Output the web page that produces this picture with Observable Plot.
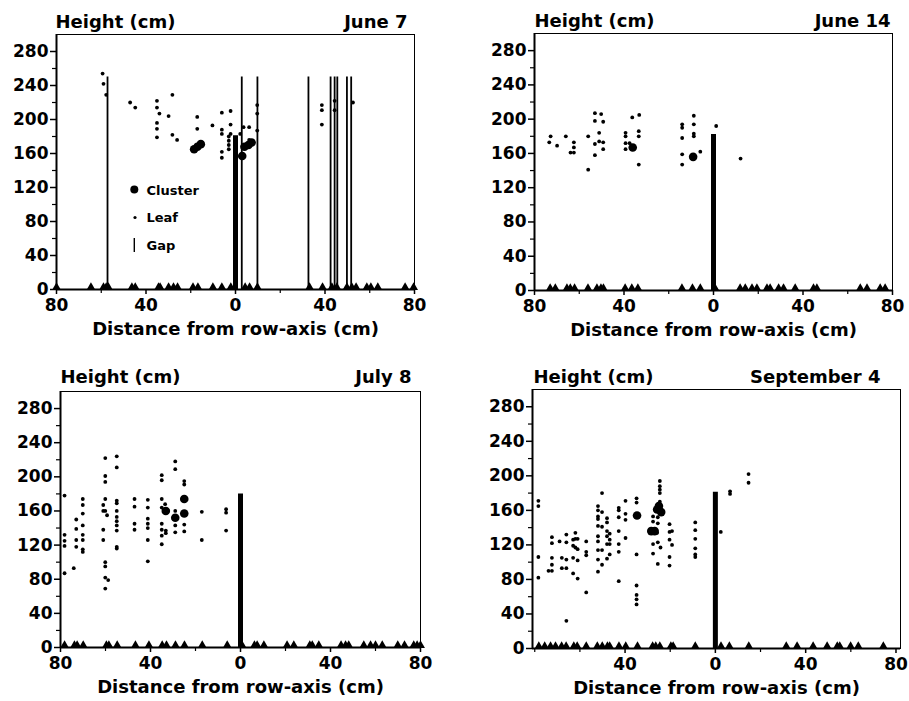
<!DOCTYPE html>
<html><head><meta charset="utf-8">
<script src="https://cdn.jsdelivr.net/npm/d3@7"></script>
<script src="https://cdn.jsdelivr.net/npm/@observablehq/plot@0.6"></script>
<style>
body{margin:0;background:#fff;}
#wrap{position:relative;width:909px;height:701px;overflow:hidden;background:#fff;}
#wrap .panel{position:absolute;}
#legend{position:absolute;left:0;top:0;pointer-events:none;}
</style></head><body><div id="wrap"></div>
<script>
// ---------- data (x: cm from row axis, negative = left side; y: height cm) ----------
const dates = ["June 7", "June 14", "July 8", "September 4"];
const stemTop = [181, 182, 180, 181];          // height of the row (stem) bar at x = 0
const gapTop = [250, 0, 0, 0];

const june7Leaves = [
  [-59.4,254],[-59,242],[-57.8,229],[-47.1,220],[-44.8,214],
  [-35.1,222],[-35.1,214],[-34,207],[-35.1,196],[-35.1,189],[-35.1,179],
  [-28.2,229],[-29.9,204],[-28.2,182],[-26.1,176],[-17.1,203],[-17.1,189],
  [-10.3,193],[-6.1,208],[-6.1,188],[-6.1,183],[-6.1,162],[-6.1,155],
  [-2.2,210],[-2.2,194],[-2.2,183],[-3,180],[-3,175],[-3,170],[-3,165],
  [2.1,183],[3.6,191],[6.1,191],[6.1,176],
  [9.7,217],[9.7,207],[9.7,187],[38.6,217],[38.6,211],[38.6,194],
  [44.3,222],[44.3,211],[52.5,220]
];
const june7Clusters = [[-18.5,165],[-17,168],[-15.5,171],[3,157],[4,168],[5.8,170],[7.2,173]];
const june7Gaps = [-57.2, 2.8, 9.8, 32.6, 42.5, 44.3, 45.5, 49.8, 51.7];
const june7Triangles = [-80,-64.6,-59,-57.8,-56.8,-46.3,-44.8,-34.4,-33.7,-29.9,-27.7,-25.9,-19,-16.8,-10.1,-6.1,-2.1,4.3,6.3,9.8,33.1,38.9,43.1,45.3,49.8,52,53.9,58.7,60.5,63.6,75.8,79.6];

const june14Leaves = [
  [-72.8,180],[-73.4,173],[-69.9,169],[-66,180],[-62.4,173],[-62.4,167],[-63.9,161],[-62.4,161],
  [-56,180],[-56,141],
  [-53,207],[-50.2,206],[-53,198],[-49.3,197],[-51.1,184],[-53,171],[-49.3,173],[-49.3,165],[-51.1,174],[-53,158],
  [-36.3,202],[-33.2,205],[-39.3,184],[-33.4,186],[-39.3,180],[-33.4,180],[-39.3,172],[-37.5,172],[-39.3,165],[-33.4,147],
  [-14,194],[-14,190],[-14,178],[-14,159],[-14,147],
  [-8.8,204],[-8.8,194],[-8.8,183],[-8.8,180],[-5.9,162],
  [1.2,192],[12.1,154]
];
const june14Clusters = [[-36.1,167],[-9.1,156]];
const june14Gaps = [];
const june14Triangles = [-73,-70.7,-65.5,-64,-62.1,-56.1,-52.1,-50.3,-49.2,-39.5,-36.5,-33.8,-14.1,-9.4,-5.9,0.7,11.9,14.2,17.2,19.4,23.9,25.3,29.1,31.3,36.5,44.7,46.2,65.6,68.6,74.5,76.7];

const july8Leaves = [
  [-78.2,178],[-78.2,132],[-78.2,125],[-78.2,119],[-78.2,87],[-74.1,93],
  [-73,150],[-73,139],[-73,126],[-73,118],
  [-70.1,174],[-70.1,167],[-70.1,157],[-70.1,143],[-70.1,132],[-70.1,126],[-70.1,115],[-70.1,112],
  [-60.1,222],[-60.1,201],[-60.1,194],[-60.1,174],[-61,167],[-60.1,160],[-61,160],[-59.3,155],[-61,138],[-61,126],
  [-60.1,100],[-60.1,95],[-60.1,82],[-58.8,79],[-60.1,69],
  [-55,224],[-55,211],[-55,172],[-55,169],[-55,160],[-55,153],[-55,148],[-55,143],[-55,137],[-55,118],[-55,116],
  [-47.1,174],[-47.1,165],[-47.1,145],[-47.1,138],
  [-41.2,173],[-41.2,164],[-41.2,151],[-41.2,145],[-41.2,140],[-41.2,126],[-41.2,101],
  [-35,202],[-35,196],[-35,174],[-35,164],[-33.5,168],[-35,145],[-35,138],[-33.2,137],[-33.2,134],[-35,131],[-35,121],
  [-29,218],[-29,209],[-29,160],[-29,143],[-29,135],
  [-25,195],[-25,191],[-25,144],[-25,136],
  [-17.2,159],[-17.2,126],[-6.4,162],[-6.4,158],[-6.4,137]
];
const july8Clusters = [[-33.2,160],[-29,152],[-25,174],[-25,157]];
const july8Gaps = [];
const july8Triangles = [-78.2,-73.8,-72.6,-69.9,-59.6,-58.5,-54.8,-46.7,-40.7,-34.8,-32.9,-28.9,-24.9,-17,-5.9,0.7,6.2,7.4,10.4,20.7,23.7,30.8,31.9,34.8,44.7,46.7,48.1,54.8,57.8,60,63,69.9,72.9,77,78.5,80];

const sep4Leaves = [
  [-78.4,171],[-78.4,165],[-78.4,106],[-78.4,82],
  [-72.4,129],[-72.4,122],[-72.4,105],[-72.4,97],[-73.9,90],[-72.4,90],
  [-69,124],[-68,105],[-66,103],[-68,93],[-66,93],[-66,132],[-66,123],[-66,32],
  [-63,126],[-62,134],[-62,127],[-61,127],[-63,119],[-62,117],[-61,115],[-63,105],[-61,102],[-63,87],[-61,81],
  [-57.2,124],[-57.2,112],[-57.2,108],[-57.2,65],
  [-50.2,180],[-52,165],[-52,160],[-52,153],[-52,150],[-50.2,158],[-52,142],[-50.2,141],[-52,130],[-52,124],[-52,114],[-50.2,114],[-52,103],[-50.2,97],[-52,89],
  [-48,151],[-48,146],[-48,136],[-48,130],[-46.8,133],[-46.8,126],[-48,121],[-46.8,121],[-48,104],[-46.8,109],
  [-42.8,163],[-42.8,160],[-42.8,152],[-39.8,171],[-39.8,156],[-39.8,149],[-42.8,136],[-42.8,121],[-42.8,112],[-39.8,128],[-42.8,78],
  [-34.9,174],[-34.9,169],[-34.9,109],[-34.9,73],[-34.9,62],[-34.9,57],[-34.9,51],
  [-24.6,194],[-24.6,188],[-24.6,184],[-24.6,180],[-24.6,170],[-27.6,153],[-27.6,147],[-25.5,152],[-25.5,145],[-25.8,134],
  [-27.6,121],[-25.5,123],[-24.3,117],[-27.6,110],[-25.5,98],
  [-20.3,144],[-20.3,135],[-19.2,136],[-20.3,126],[-19.2,120],[-20.3,106],[-20.3,96],
  [-8.9,146],[-8.9,137],[-8.9,127],[-8.9,116],[-8.9,109],[-8.9,106],
  [2.4,135],[6.5,182],[6.5,179],[14.7,202],[14.7,192]
];
const sep4Clusters = [[-34.7,154],[-25.8,161],[-24,158],[-25,165],[-28.4,136],[-26.9,136]];
const sep4Gaps = [];
const sep4Triangles = [-78.2,-75.6,-73,-70.8,-68.1,-66.1,-62.7,-61.2,-57.2,-52.3,-50.1,-47.8,-46.8,-42.7,-39.7,-34.5,-27.8,-26.4,-24.6,-19.7,-18.7,-8.9,2.5,6.2,14.8,31.4,36.2,43.3,49.5,54,55.1,59.9,63.3,74.4];

const yMajor = [0,40,80,120,160,200,240,280];
const yMinor = [20,60,100,140,180,220,260];
const xMajor = [-80,-40,0,40,80];
const xMinor = [-60,-20,20,60];
const xLabelsSep = [-40,0,40,80];
const legendItems = ["Cluster","Leaf","Gap"];
const yLabel = "Height (cm)";
const xLabel = "Distance from row-axis (cm)";

// ---------- layout ----------
const panels = [
  {leaves:june7Leaves, clusters:june7Clusters, gaps:june7Gaps, tri:june7Triangles, left:0, top:0, width:455, height:345, ml:56, mr:41, mt:34, mb:56, xd:[-80,80], xl:xMajor, tdy:-19, tdx:-1, ddx:-7},
  {leaves:june14Leaves, clusters:june14Clusters, gaps:june14Gaps, tri:june14Triangles, left:455, top:0, width:454, height:345, ml:79, mr:17, mt:33, mb:55, xd:[-80,80], xl:xMajor, tdy:-19, tdx:0, ddx:-2},
  {leaves:july8Leaves, clusters:july8Clusters, gaps:july8Gaps, tri:july8Triangles, left:0, top:345, width:455, height:356, ml:60, mr:35, mt:46, mb:54, xd:[-80,80], xl:xMajor, tdy:-21, tdx:0, ddx:-9},
  {leaves:sep4Leaves, clusters:sep4Clusters, gaps:sep4Gaps, tri:sep4Triangles, left:455, top:345, width:454, height:356, ml:77, mr:9, mt:44, mb:53, xd:[-81,82], xl:xLabelsSep, tdy:-19, tdx:1, ddx:-20}
];

const wrap = document.getElementById("wrap");
const FONT = "DejaVu Sans";

panels.forEach((p, i) => {
  const chart = Plot.plot({
    width: p.width, height: p.height,
    marginLeft: p.ml, marginRight: p.mr, marginTop: p.mt, marginBottom: p.mb,
    x: {domain: p.xd, axis: null},
    y: {domain: [0, 300], axis: null},
    style: {fontFamily: FONT, fontWeight: "bold", color: "black", background: "white", overflow: "visible"},
    marks: [
      Plot.frame({stroke: "black", strokeWidth: 1}),
      Plot.axisY({ticks: yMajor, tickSize: 6, tickPadding: 2, fontSize: 17, strokeWidth: 1.5, tickFormat: d => String(d)}),
      Plot.axisY({ticks: yMinor, tickSize: 4, strokeWidth: 1.2, tickFormat: () => ""}),
      Plot.axisX({ticks: p.xl, tickSize: 5, tickPadding: 4, fontSize: 17, strokeWidth: 1.5, tickFormat: d => String(Math.abs(d))}),
      Plot.axisX({ticks: xMinor.concat(i === 3 ? [-80] : []), tickSize: 4, strokeWidth: 1.2, tickFormat: () => ""}),
      Plot.ruleY([0], {stroke: "black", strokeWidth: 2}),
      Plot.ruleX([p.xd[0]], {stroke: "black", strokeWidth: 2}),
      Plot.ruleX(p.gaps, {x: d => d, y1: 0, y2: gapTop[i], stroke: "black", strokeWidth: 1.8}),
      Plot.ruleX([stemTop[i]], {x: 0, y1: 0, y2: d => d, stroke: "black", strokeWidth: 5}),
      Plot.dot(p.leaves, {x: d => d[0], y: d => d[1], r: 1.9, fill: "black", stroke: "none"}),
      Plot.dot(p.clusters, {x: d => d[0], y: d => d[1], r: 4.3, fill: "black", stroke: "none"}),
      Plot.dot(p.tri, {x: d => d, y: 0, symbol: "triangle", r: 3.3, fill: "black", stroke: "none", dy: -2}),
      Plot.text([yLabel], {frameAnchor: "top-left", textAnchor: "start", lineAnchor: "top", dx: p.tdx, dy: p.tdy, fontSize: 18, fill: "black"}),
      Plot.text([dates[i]], {frameAnchor: "top-right", textAnchor: "end", lineAnchor: "top", dx: p.ddx, dy: p.tdy, fontSize: 18, fill: "black"}),
      Plot.text([xLabel], {frameAnchor: "bottom", textAnchor: "middle", lineAnchor: "top", dy: 33, fontSize: 18, fill: "black"})
    ]
  });
  chart.classList.add("panel");
  chart.style.left = p.left + "px";
  chart.style.top = p.top + "px";
  wrap.appendChild(chart);
});

// ---------- legend (in the June 7 panel) ----------
const lg = d3.select(wrap).append("svg").attr("id", "legend").attr("width", 909).attr("height", 701)
  .style("font-family", FONT).style("font-weight", "bold").style("font-size", "13px");
lg.append("circle").attr("cx", 134.3).attr("cy", 189.5).attr("r", 4).attr("fill", "black");
lg.append("circle").attr("cx", 135).attr("cy", 217.5).attr("r", 1.6).attr("fill", "black");
lg.append("line").attr("x1", 134.3).attr("x2", 134.3).attr("y1", 238).attr("y2", 252).attr("stroke", "black").attr("stroke-width", 1.4);
lg.selectAll("text.lt").data(legendItems).join("text").attr("class", "lt")
  .attr("x", 146.5).attr("y", (d, k) => [195, 222, 250][k]).text(d => d);
</script></body></html>
